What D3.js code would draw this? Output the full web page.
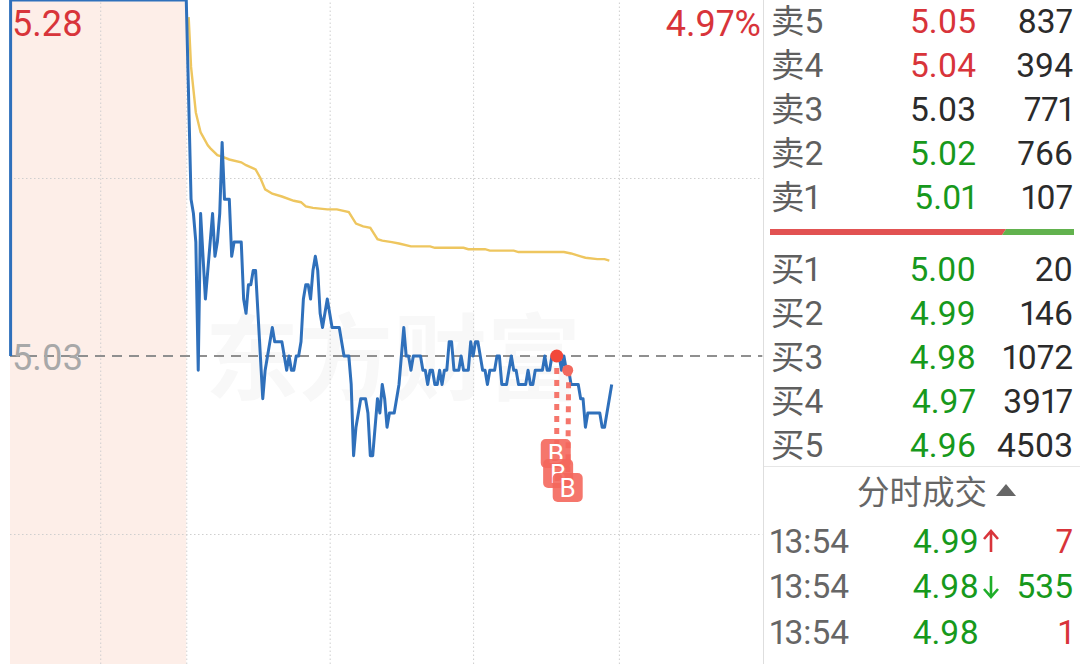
<!DOCTYPE html>
<html>
<head>
<meta charset="utf-8">
<script src="https://cdn.jsdelivr.net/npm/d3@7"></script>
<style>
  html, body { margin: 0; padding: 0; background: #fff; overflow: hidden; }
  svg { display: block; }
  text { font-family: Roboto, "Noto Sans CJK SC", sans-serif; font-variant-numeric: proportional-nums; font-feature-settings: "pnum" 1; }
</style>
</head>
<body>
<svg id="chart" width="1080" height="664"></svg>
<script>
// Giá đóng cửa hôm trước và mức trần
const prevClose = 5.03;
const topPrice = 5.28;
const topPctLabel = "4.97%";

// Phiên trước giờ mở cửa (phút tính từ 9:30)
const preTimes = [-74.5, -74.5, -1];
const prePrices = [5.03, 5.28, 5.28];

// Giá theo từng phút, bắt đầu từ phút 1
const prices = [
  5.14, 5.13, 5.11, 5.02, 5.13, 5.10, 5.07, 5.09, 5.11, 5.13,
  5.10, 5.11, 5.13, 5.18, 5.14, 5.14, 5.14, 5.10, 5.11, 5.11,
  5.11, 5.11, 5.07, 5.06, 5.08, 5.08, 5.09, 5.09, 5.06, 5.03,
  5.00, 5.02, 5.03, 5.04, 5.05, 5.04, 5.04, 5.04, 5.04, 5.03,
  5.02, 5.03, 5.02, 5.02, 5.03, 5.03, 5.04, 5.07, 5.08, 5.08,
  5.07, 5.09, 5.10, 5.09, 5.06, 5.05, 5.06, 5.07, 5.06, 5.05,
  5.05, 5.05, 5.05, 5.04, 5.03, 5.03, 5.03, 5.01, 4.96, 4.98,
  4.99, 5.00, 5.00, 5.00, 4.99, 4.96, 4.96, 4.98, 5.00, 4.99,
  5.01, 5.00, 4.98, 4.99, 4.99, 4.99, 5.00, 5.01, 5.03, 5.05,
  5.03, 5.03, 5.02, 5.03, 5.03, 5.03, 5.03, 5.02, 5.02, 5.01,
  5.02, 5.02, 5.01, 5.01, 5.02, 5.01, 5.02, 5.02, 5.04, 5.04,
  5.02, 5.02, 5.02, 5.03, 5.02, 5.02, 5.02, 5.04, 5.03, 5.04,
  5.04, 5.03, 5.02, 5.02, 5.01, 5.02, 5.02, 5.02, 5.03, 5.03,
  5.01, 5.01, 5.01, 5.02, 5.03, 5.02, 5.02, 5.01, 5.01, 5.01,
  5.01, 5.02, 5.01, 5.01, 5.02, 5.02, 5.02, 5.02, 5.03, 5.02,
  5.02, 5.03, 5.03, 5.03, 5.03, 5.02, 5.03, 5.02, 5.02, 5.01,
  5.01, 5.01, 5.01, 5.00, 5.00, 4.98, 4.99, 4.99, 4.99, 4.99,
  4.99, 4.99, 4.98, 4.98, 4.99, 5.00, 5.01
];

// Đường giá trung bình
const avgTimes = [0, 1, 3, 5, 6, 8, 9, 12, 14, 17, 22, 24, 28, 30, 32, 35, 39, 44, 47, 49, 52, 58, 62, 67, 70, 73, 76, 79, 81, 85, 88, 93, 101, 103, 115, 117, 124, 126, 136, 138, 157, 160, 164, 166, 171, 174, 176];
const avgPrices = [5.268, 5.233, 5.201, 5.187, 5.184, 5.178, 5.176, 5.171, 5.170, 5.168, 5.166, 5.164, 5.161, 5.155, 5.147, 5.144, 5.142, 5.139, 5.138, 5.135, 5.134, 5.133, 5.133, 5.131, 5.123, 5.121, 5.120, 5.112, 5.111, 5.110, 5.109, 5.107, 5.107, 5.106, 5.106, 5.105, 5.105, 5.104, 5.104, 5.103, 5.103, 5.102, 5.100, 5.099, 5.098, 5.098, 5.097];

// Điểm mua
const buyTimes = [154, 155, 159];
const buyDotPrices = [5.03, 5.03, 5.02];

// Lưới
const gridTimes = [-37, -1, 59, 119, 180];
const gridPrices = [5.155, 4.905];

// Sổ lệnh
const sellLabels = ["卖5", "卖4", "卖3", "卖2", "卖1"];
const sellPrices = [5.05, 5.04, 5.03, 5.02, 5.01];
const sellVolumes = [837, 394, 771, 766, 107];
const buyLabels = ["买1", "买2", "买3", "买4", "买5"];
const buyPrices = [5.00, 4.99, 4.98, 4.97, 4.96];
const buyVolumes = [20, 146, 1072, 3917, 4503];
const ratioShare = 0.77;

// Khớp lệnh
const tradeTimes = ["13:54", "13:54", "13:54"];
const tradePrices = [4.99, 4.98, 4.98];
const tradeArrows = ["up", "down", ""];
const tradeVolumes = [7, 535, 1];
const tradeSides = ["up", "down", "up"];

const RED = "#d8343a", GREEN = "#17991c", BLACK = "#2b2b2b", GRAY = "#666";
const FONT = 33.5;

const svg = d3.select("#chart");

// Thang đo
const x = d3.scaleLinear().domain([-75, 240]).range([9.4, 762.3]);
const y = d3.scaleLinear().domain([prevClose, topPrice]).range([356, 0]);

// Nền hồng trước giờ mở cửa
svg.append("rect")
  .attr("x", 10).attr("y", 0)
  .attr("width", x(-1) - 10).attr("height", 664)
  .attr("fill", "#fdeee8");

// Chữ nền
svg.append("text")
  .attr("x", 205).attr("y", 393)
  .attr("fill", "#f8f8f8")
  .style("font-family", '"Noto Sans CJK SC"')
  .style("font-size", "94px")
  .style("font-weight", 700)
  .text("东方财富");

// Lưới dọc và ngang
const xGrid = svg.append("g")
  .attr("transform", "translate(0,664)")
  .call(d3.axisBottom(x).tickValues(gridTimes).tickSize(-664).tickFormat(""));
const yGrid = svg.append("g")
  .attr("transform", "translate(10,0)")
  .call(d3.axisLeft(y).tickValues(gridPrices).tickSize(-(x(240) - 10)).tickFormat(""));
[xGrid, yGrid].forEach(g => {
  g.select(".domain").remove();
  g.selectAll("line")
    .attr("stroke", "#cfcfcf")
    .attr("stroke-dasharray", "1.5,2.5");
});

// Đường giá đóng cửa
svg.append("line")
  .attr("x1", 10).attr("x2", x(240))
  .attr("y1", y(prevClose)).attr("y2", y(prevClose))
  .attr("stroke", "#8f8f8f")
  .attr("stroke-width", 1.8)
  .attr("stroke-dasharray", "10,7");

// Đường trung bình
const avgLine = d3.line().x(d => x(d[0])).y(d => y(d[1]));
svg.append("path")
  .attr("d", avgLine(avgTimes.map((t, i) => [t, avgPrices[i]])))
  .attr("fill", "none")
  .attr("stroke", "#eec65f")
  .attr("stroke-width", 2.4);

// Đường giá
const pricePoints = preTimes.map((t, i) => [t, prePrices[i]])
  .concat(prices.map((p, i) => [i + 1, p]));
svg.append("path")
  .attr("d", avgLine(pricePoints))
  .attr("fill", "none")
  .attr("stroke", "#2f70bb")
  .attr("stroke-width", 3)
  .attr("stroke-linejoin", "round");

// Điểm mua, vạch đứt và nhãn B
const MARK = "#f4675c";
const boxY = [453, 473, 487];
buyTimes.forEach((t, i) => {
  if (i === 1) return;
  svg.append("line")
    .attr("x1", x(t)).attr("x2", x(t) - (i === 2 ? 1 : 0))
    .attr("y1", y(buyDotPrices[i])).attr("y2", boxY[i])
    .attr("stroke", MARK).attr("stroke-opacity", 0.9)
    .attr("stroke-width", 5)
    .attr("stroke-dasharray", "6,6");
});
svg.append("circle").attr("cx", x(buyTimes[0])).attr("cy", y(buyDotPrices[0])).attr("r", 6.5).attr("fill", "#f2483a");
svg.append("circle").attr("cx", x(buyTimes[2]) - 1).attr("cy", y(buyDotPrices[2])).attr("r", 5.5).attr("fill", "#f2695e");
buyTimes.forEach((t, i) => {
  const bx = x(t) - 1;
  svg.append("rect")
    .attr("x", bx - 15).attr("y", boxY[i] - 14)
    .attr("width", 30).attr("height", 29).attr("rx", 5)
    .attr("fill", MARK).attr("fill-opacity", 0.9);
  svg.append("text")
    .attr("x", bx).attr("y", boxY[i] + 9.5)
    .attr("text-anchor", "middle")
    .attr("fill", "#fff")
    .style("font-size", "26px")
    .text("B");
});

// Nhãn trục giá
const labels = svg.append("g").style("font-size", "36px");
labels.append("text").attr("x", 12).attr("y", 36).attr("fill", RED).text(topPrice.toFixed(2));
labels.append("text").attr("x", 12).attr("y", 370).attr("fill", "#a8a8a8").text(prevClose.toFixed(2));
labels.append("text").attr("x", 761).attr("y", 36).attr("text-anchor", "end").attr("fill", RED).text(topPctLabel);

// Viền và đường phân cách của bảng bên phải
svg.append("line").attr("x1", 763.5).attr("x2", 763.5).attr("y1", 0).attr("y2", 664).attr("stroke", "#dedede");
svg.append("line").attr("x1", 764).attr("x2", 1080).attr("y1", 466.5).attr("y2", 466.5).attr("stroke", "#e6e6e6");

const priceColor = p => p > prevClose ? RED : p < prevClose ? GREEN : BLACK;

// Vẽ một khối sổ lệnh
function drawBook(rowLabels, rowPrices, rowVolumes, firstBase) {
  const row = d3.scalePoint().domain(d3.range(5)).range([firstBase, firstBase + 176]);
  const g = svg.append("g").style("font-size", FONT + "px");
  rowLabels.forEach((label, i) => {
    g.append("text").attr("x", 771).attr("y", row(i)).attr("fill", "#5f5f5f").text(label);
    g.append("text").attr("x", 976).attr("y", row(i)).attr("text-anchor", "end")
      .attr("fill", priceColor(rowPrices[i])).text(rowPrices[i].toFixed(2));
    g.append("text").attr("x", 1073).attr("y", row(i)).attr("text-anchor", "end")
      .attr("fill", BLACK).text(rowVolumes[i]);
  });
}
drawBook(sellLabels, sellPrices, sellVolumes, 33);
drawBook(buyLabels, buyPrices, buyVolumes, 281);

// Thanh tỉ lệ mua bán
const ratio = d3.scaleLinear().domain([0, 1]).range([770, 1074]);
svg.append("path")
  .attr("d", `M${ratio(0)},229L${ratio(ratioShare) + 2},229L${ratio(ratioShare) - 2},235L${ratio(0)},235Z`)
  .attr("fill", "#e25252");
svg.append("path")
  .attr("d", `M${ratio(ratioShare) + 2},229L${ratio(1)},229L${ratio(1)},235L${ratio(ratioShare) - 2},235Z`)
  .attr("fill", "#62b24e");

// Tiêu đề khớp lệnh
svg.append("text")
  .attr("x", 922).attr("y", 504)
  .attr("text-anchor", "middle")
  .attr("fill", GRAY)
  .style("font-size", "32.5px")
  .text("分时成交");
svg.append("path").attr("d", "M996,496L1006,484L1016,496Z").attr("fill", GRAY);

// Bảng khớp lệnh
const tradeBase = [553, 598, 644];
const tg = svg.append("g").style("font-size", FONT + "px");
tradeTimes.forEach((t, i) => {
  tg.append("text").attr("x", 770).attr("y", tradeBase[i]).attr("fill", GRAY).text(t);
  tg.append("text").attr("x", 979).attr("y", tradeBase[i]).attr("text-anchor", "end")
    .attr("fill", priceColor(tradePrices[i])).text(tradePrices[i].toFixed(2));
  tg.append("text").attr("x", 1073).attr("y", tradeBase[i]).attr("text-anchor", "end")
    .attr("fill", tradeSides[i] === "up" ? RED : GREEN).text(tradeVolumes[i]);
  if (tradeArrows[i]) {
    const up = tradeArrows[i] === "up";
    const top = tradeBase[i] - 22, bottom = tradeBase[i] - 1;
    const tip = up ? top : bottom, dir = up ? 1 : -1;
    svg.append("path")
      .attr("d", `M991,${top}V${bottom}M984,${tip + dir * 8}L991,${tip}L998,${tip + dir * 8}`)
      .attr("fill", "none")
      .attr("stroke", up ? RED : "#1fae2a")
      .attr("stroke-width", 2.6);
  }
});
</script>
</body>
</html>
